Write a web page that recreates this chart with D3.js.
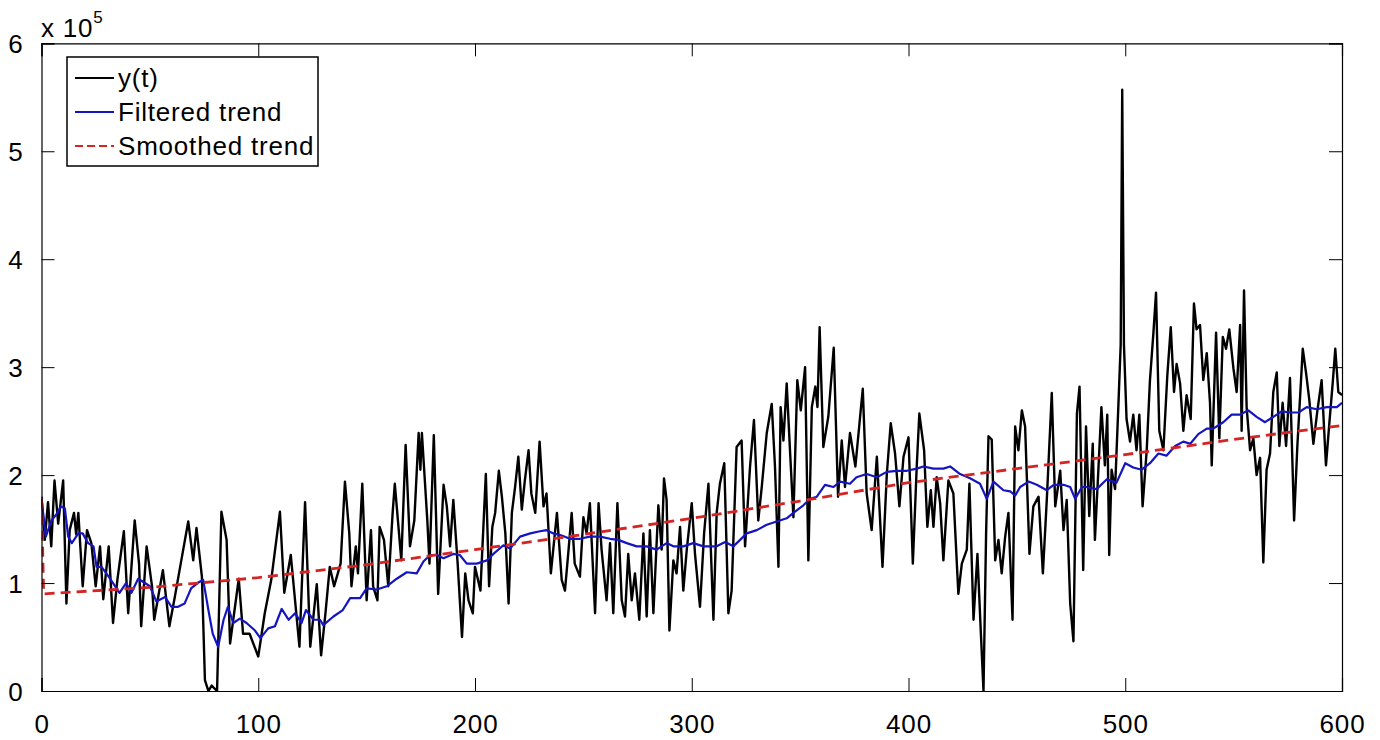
<!DOCTYPE html>
<html>
<head>
<meta charset="utf-8">
<script src="https://cdn.jsdelivr.net/npm/d3@7"></script>
<style>
  html, body { margin: 0; padding: 0; background: #fff; }
  svg { display: block; }
  text { font-family: "Liberation Sans", Arial, Helvetica, sans-serif; fill: #000; }
</style>
</head>
<body>
<svg id="chart" width="1380" height="740"></svg>
<script>
// ---- data (values in units of 1e5) ----
const xTicks = [0, 100, 200, 300, 400, 500, 600];
const yTicks = [0, 1, 2, 3, 4, 5, 6];
const yExponent = "5";
const legendLabels = ["y(t)", "Filtered trend", "Smoothed trend"];

// observed series y(t): time points and values
const yT = [0,1.5,3,4.5,6,7.7,10,11.5,13,15,16,17,19,21,23,25,27,28.5,31,33,35,38,40,43,45,46,48.5,51,52,56,59,61.5,64.5,67.7,70,71.5,74,75.4,77,78.5,81,83,85.4,87,91,93,96,100,103,106,110,112,115,119,
121.6,124,127,129,131,133,135,138,140,142,143,145,146,148,150,152,153,155,156,158,160,162,163,166,168,170,172,174,174.8,175.5,178,179,181,183,185.5,187,188.5,190,192,194,195.5,197,199,200,202.5,205,206.5,208,209.3,211,212.4,214,215.5,217,218.5,220,221.6,223,224.7,226,227.8,229.8,231.6,233,235,237.8,240,
241.5,243,244.6,246,248.4,250,251.5,253,255.4,257,258.4,260.7,262.3,263.8,265.7,267.7,269.2,270.7,272.3,273.8,275.8,277.7,279.2,280.7,282.3,284.6,286.1,287.2,288.4,289.7,291.5,293,294.6,296.1,297.7,300,301.5,303.8,305.7,307.7,310,311.5,313,315,316.9,318.4,320.7,323,324.6,326.9,328.7,330.7,332.3,334.6,336.9,338.4,340,341,342.3,343.8,345.4,346.9,348.7,350.3,352.3,353.8,355.4,357,358,359,
360.7,363,365.5,367.5,369.2,370.7,373,375.5,378.9,380.7,383,385.4,388,390,391.8,393.8,395.8,397.7,400,402,403.8,405,407.2,408.7,410.3,411.5,413,414.6,416.1,418.4,420.7,423,424.6,426.9,428.1,430,431.8,433.4,434.6,435.8,436.9,438.4,440,441.5,443,444.6,446.1,448,449.2,450.7,452.3,453.8,455.8,457.6,460,462,463.8,466.1,467.7,470,471.5,473,474.6,476.1,477.7,478.9,
480.6,481.9,483.4,485,486,487.6,489,490.6,491.7,492.6,493.7,495.3,496.8,497.9,498.6,499.4,500.6,502.2,503.7,505.2,506.5,508,509.9,511.4,513,514.2,515.7,517.6,519.4,521,522.5,523.7,525.3,526.8,528.3,530.2,531.7,532.9,534.5,536,537.6,539.1,539.9,541.9,543.4,545,546.5,548,549.9,551.4,553,553.7,554.8,556,557.6,559.1,560.6,562.2,563.7,565.2,566.8,568.3,569.9,571.1,572.6,574.2,576,577.9,579.4,581.9,583.4,584.9,586.8,588.6,590.6,592.6,594.2,595.7,596.9,598.3,600];
const yV = [1.80,1.40,1.75,1.34,1.95,1.55,1.95,0.81,1.49,1.65,1.45,1.65,0.97,1.49,1.37,0.97,1.34,0.85,1.34,0.63,1.03,1.48,0.72,1.58,1.18,0.60,1.34,0.97,0.66,1.12,0.60,0.87,1.21,1.57,1.21,1.51,1.06,0.10,0.0,0.05,0.0,1.66,1.40,0.44,1.04,0.53,0.53,0.32,0.72,1.03,1.66,0.91,1.26,0.41,
1.75,0.41,0.99,0.33,0.72,1.15,0.97,1.18,1.94,1.46,0.97,1.34,1.09,1.92,0.84,1.49,0.97,0.84,1.52,1.40,0.97,1.65,1.92,1.21,2.28,1.34,1.58,2.39,2.05,2.39,1.58,1.18,2.37,0.90,1.91,1.71,1.34,1.77,1.18,0.50,1.09,0.84,0.72,1.15,0.93,2.01,0.97,1.52,1.65,2.04,1.80,1.46,0.81,1.65,1.89,2.17,1.68,1.95,2.23,1.83,1.65,2.31,1.71,1.83,1.09,1.65,1.03,
0.93,1.27,1.65,1.18,1.06,1.61,1.46,1.74,0.72,1.74,1.31,0.84,1.37,0.72,1.74,0.84,0.69,1.27,0.84,1.09,0.66,1.46,0.69,1.49,0.72,1.72,1.31,1.97,1.77,0.56,1.21,1.09,1.52,0.93,1.31,1.74,1.27,0.78,1.46,1.92,0.66,1.65,1.92,2.11,0.72,0.93,2.26,2.32,1.34,2.08,2.51,1.58,1.89,2.39,2.66,2.08,1.15,2.63,2.32,2.85,2.20,1.61,2.88,2.60,3.00,1.21,2.63,2.82,2.63,3.37,
2.26,2.54,3.18,1.80,2.32,1.89,2.39,2.08,2.80,1.83,1.49,2.17,1.15,2.01,2.48,2.20,1.71,2.17,2.35,1.18,2.08,2.57,2.23,1.52,1.86,1.52,1.98,1.74,1.21,1.95,1.83,0.90,1.18,1.31,1.92,0.66,1.27,0.53,0.0,1.46,2.36,2.33,1.21,1.40,1.09,1.43,1.65,0.66,2.45,2.23,2.60,2.45,1.27,1.71,1.80,1.09,1.77,2.76,1.71,2.04,1.49,1.77,0.81,0.46,2.57,2.82,
1.12,2.45,1.62,2.29,1.40,2.05,2.63,2.09,2.56,1.26,2.05,1.87,2.63,3.21,5.57,3.21,2.52,2.31,2.56,2.23,2.56,1.71,2.23,2.88,3.32,3.69,2.41,2.23,2.92,3.37,2.77,3.03,2.85,2.41,2.74,2.52,3.59,3.35,3.39,2.88,3.13,2.67,2.09,3.32,2.34,3.28,3.17,3.35,2.99,2.77,3.39,2.41,3.71,2.63,2.23,2.34,2.00,2.16,1.19,2.05,2.20,2.77,2.95,2.27,2.67,2.27,2.90,1.58,2.27,3.17,2.95,2.70,2.29,2.59,2.88,2.09,2.49,2.85,3.17,2.77,2.74];

// filtered trend
const fT = [0,2,4.6,7,9,10.8,12.3,14,17,19,21.5,24,25.4,27.7,31,33,36,39,41.5,44.6,47.7,50,53,57,60,63,66,69,72,74.6,77,79,81.5,84,86,88.5,91.5,94.6,98.5,101,104.6,107.7,110.8,114,117,120,122,125.5,128.5,130,134.7,139,142.4,147,150,154.7,159.3,163.9,168.5,173.1,176.2,179.3,182.4,185.5,190,193,196.2,200.8,205.5,208.5,213.1,216.2,220.8,225.5,230,233,236.2,240,243.8,248.4,253,257.7,262.3,266.1,270,274.6,279.2,283.8,288.4,291.5,296.1,300.7,305.4,311.5,315.4,319.2,322.3,325.4,330,334.6,339.2,343.8,346.9,351.5,354.6,357.7,361.5,365.4,368.4,373,376,380.7,385.4,390,394.6,399.2,403.8,406.9,411.5,416.1,419.2,423.8,428.4,433,436.1,439.2,443.8,446.9,449.2,451.5,455.4,459.2,463.8,467,471.5,474.6,476.9,480,482,486.8,491.4,496,500,503.7,507.6,511.4,515.3,519,523,526.8,530,533.7,537.6,540.6,545.2,549.1,553,556.8,560.6,564.5,568.3,572.2,576,579.9,583.7,588.4,593,597.6,600];
const fV = [1.78,1.43,1.58,1.64,1.71,1.69,1.43,1.37,1.46,1.46,1.37,1.34,1.15,1.15,1.06,1.00,0.91,1.00,0.91,1.04,1.00,0.97,0.83,0.87,0.78,0.78,0.81,0.95,1.00,1.03,0.75,0.53,0.41,0.66,0.78,0.63,0.67,0.63,0.56,0.49,0.58,0.60,0.76,0.66,0.72,0.63,0.75,0.66,0.66,0.61,0.69,0.75,0.86,0.86,0.95,0.94,0.97,1.04,1.10,1.09,1.20,1.26,1.26,1.23,1.27,1.26,1.18,1.18,1.21,1.27,1.35,1.32,1.43,1.46,1.48,1.49,1.46,1.44,1.41,1.41,1.43,1.43,1.41,1.40,1.37,1.34,1.34,1.31,1.37,1.34,1.34,1.37,1.34,1.34,1.38,1.34,1.40,1.46,1.49,1.54,1.57,1.60,1.65,1.72,1.78,1.80,1.91,1.89,1.94,1.92,1.98,2.01,1.98,2.03,2.04,2.04,2.06,2.08,2.06,2.06,2.08,2.01,1.97,1.92,1.78,1.94,1.86,1.85,1.81,1.89,1.94,1.91,1.86,1.91,1.91,1.89,1.78,1.89,1.89,1.87,1.96,1.93,2.11,2.07,2.05,2.11,2.20,2.18,2.27,2.31,2.29,2.38,2.43,2.43,2.49,2.56,2.56,2.60,2.54,2.49,2.54,2.59,2.58,2.58,2.63,2.61,2.63,2.63,2.67];

// smoothed trend
const sT = [0,1,50,100,150,200,250,300,350,400,450,500,550,600];
const sV = [1.78,0.90,0.96,1.05,1.17,1.31,1.45,1.60,1.76,1.93,2.06,2.19,2.33,2.46];

// ---- layout ----
const FONT = '"Liberation Sans", Arial, Helvetica, sans-serif';
const FS = 26, LS = 0.8;
const svg = d3.select("#chart");
const L = 41.5, R = 1342, T = 43.3, B = 691;
const x = d3.scaleLinear().domain([0, 600]).range([L, R]);
const y = d3.scaleLinear().domain([0, 6]).range([B, T]);

svg.append("rect").attr("width", 1380).attr("height", 740).attr("fill", "#fff");

const pts = (ts, vs) => ts.map((t, i) => [t, vs[i]]);
const line = d3.line().x(d => x(d[0])).y(d => y(d[1]));

svg.append("defs").append("clipPath").attr("id", "clip")
  .append("rect").attr("x", L).attr("y", T).attr("width", R - L).attr("height", B - T);

const plot = svg.append("g").attr("clip-path", "url(#clip)");
plot.append("path").datum(pts(yT, yV)).attr("d", line)
  .attr("fill", "none").attr("stroke", "#000").attr("stroke-width", 2.4).attr("stroke-linejoin", "round");
plot.append("path").datum(pts(fT, fV)).attr("d", line)
  .attr("fill", "none").attr("stroke", "#1515c0").attr("stroke-width", 2.2).attr("stroke-linejoin", "round");
plot.append("path").datum(pts(sT, sV)).attr("d", line)
  .attr("fill", "none").attr("stroke", "#d42424").attr("stroke-width", 2.8).attr("stroke-dasharray", "10,6");

// axes box with inward ticks on all four sides
const tickLen = 13;
const bottomAx = d3.axisBottom(x).tickValues(xTicks).tickSize(-tickLen).tickPadding(tickLen + 11).tickFormat(d3.format("d"));
const topAx = d3.axisTop(x).tickValues(xTicks).tickSize(-tickLen).tickFormat("");
const leftAx = d3.axisLeft(y).tickValues(yTicks).tickSize(-tickLen).tickPadding(tickLen + 5).tickFormat(d3.format("d"));
const rightAx = d3.axisRight(y).tickValues(yTicks).tickSize(-tickLen).tickFormat("");

function styleAxis(g) {
  g.select(".domain").attr("stroke", "#000").attr("stroke-width", 1.2);
  g.selectAll(".tick line").attr("stroke", "#000").attr("stroke-width", 1);
  g.selectAll(".tick text").attr("font-size", FS).attr("letter-spacing", LS)
    .attr("font-family", FONT).attr("fill", "#000");
}
const gb = svg.append("g").attr("transform", `translate(0,${B})`).call(bottomAx).call(styleAxis);
gb.selectAll(".tick text").attr("dy", "0.71em");
svg.append("g").attr("transform", `translate(0,${T})`).call(topAx).call(styleAxis);
const gl = svg.append("g").attr("transform", `translate(${L},0)`).call(leftAx).call(styleAxis);
gl.selectAll(".tick text").attr("dy", "0.36em");
svg.append("g").attr("transform", `translate(${R},0)`).call(rightAx).call(styleAxis);

// exponent label
const expText = svg.append("text").attr("x", 41).attr("y", 37).attr("font-size", FS).attr("letter-spacing", LS);
expText.append("tspan").text("x 10");
expText.append("tspan").attr("font-size", 17).attr("dy", -14).text(yExponent);

// legend
const lg = svg.append("g");
lg.append("rect").attr("x", 67).attr("y", 57).attr("width", 251).attr("height", 109)
  .attr("fill", "#fff").attr("stroke", "#000").attr("stroke-width", 1.5);
const legStyles = [
  {stroke: "#000", width: 2, dash: null},
  {stroke: "#1515c0", width: 2, dash: null},
  {stroke: "#d42424", width: 2, dash: "8,4"}
];
legendLabels.forEach((lab, i) => {
  const cy = 78 + i * 34;
  lg.append("line").attr("x1", 75).attr("x2", 114).attr("y1", cy).attr("y2", cy)
    .attr("stroke", legStyles[i].stroke).attr("stroke-width", legStyles[i].width)
    .attr("stroke-dasharray", legStyles[i].dash);
  lg.append("text").attr("x", 118).attr("y", cy + 9).attr("font-size", FS).attr("letter-spacing", LS).text(lab);
});
</script>
</body>
</html>
